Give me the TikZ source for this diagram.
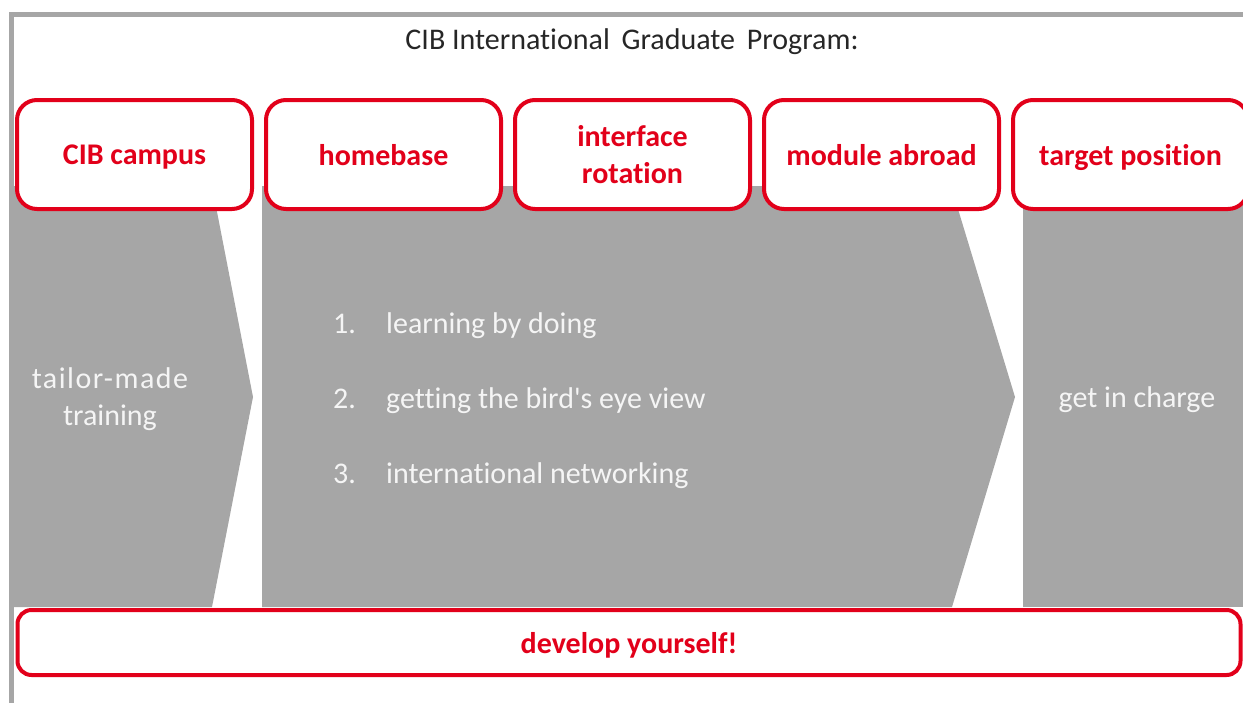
\documentclass[tikz,border=0pt]{standalone}
\usepackage{fontspec}
\setmainfont{Carlito}[Ligatures=NoCommon]
\usetikzlibrary{positioning,backgrounds}
\definecolor{cibred}{HTML}{E2001A}
\definecolor{cibgray}{HTML}{A6A6A6}

\begin{document}
\begin{tikzpicture}[x=1pt,y=-1pt,
	stagenode/.style={rectangle, rounded corners=20pt, draw=cibred, line width=4pt, fill=white, minimum width=235pt, minimum height=109pt, text depth=0pt, align=center, text=cibred, font=\fontsize{30}{37}\selectfont\bfseries},
	graytext/.style={text=white!96!black, font=\fontsize{30}{37}\selectfont}]
	\useasboundingbox (0,0) rectangle (1243,702);

	\node[text=black!85, font=\fontsize{30}{37}\selectfont] (title) at (632,42) {CIB International\, Graduate\, Program:};

	\node[stagenode] (s1) at (134.5,154.5) {CIB campus};
	\node[stagenode] (s2) [right=10pt of s1] {homebase};
	\node[stagenode] (s3) [right=10pt of s2] {interface\\rotation};
	\node[stagenode] (s4) [right=10pt of s3] {module abroad};
	\node[stagenode] (s5) [right=10pt of s4] {target position};

	\node[graytext, align=center] (t1) at (110,399) {{\addfontfeatures{LetterSpace=5}tailor-made}\\training};

	\node[graytext, inner sep=0pt, anchor=base west] (n1) at (333,333) {1.};
	\node[graytext, inner sep=0pt, anchor=base west] (i1) at (386,333) {learning by doing};
	\node[graytext, inner sep=0pt, anchor=base west] (n2) at (333,408) {2.};
	\node[graytext, inner sep=0pt, anchor=base west] (i2) at (386,408) {getting the bird\textquotesingle s eye view};
	\node[graytext, inner sep=0pt, anchor=base west] (n3) at (333,483) {3.};
	\node[graytext, inner sep=0pt, anchor=base west] (i3) at (386,483) {international networking};

	\node[graytext] (t5) at (1137,400) {get in charge};

	\node[stagenode, rounded corners=14pt, minimum width=1223pt, minimum height=65pt] (dev) at (629,642.5) {develop yourself!};

	\begin{pgfonlayer}{background}
		\begin{scope}
			\clip (0,0) rectangle (1243,702);
			\draw[cibgray, line width=5pt] (11.5,14) rectangle (1300,760);
			\fill[cibgray] (9,186) -- (212,186) -- (253,397) -- (212,607) -- (9,607) -- cycle;
			\fill[cibgray] (262,186) -- (951,186) -- (1015,397) -- (952,607) -- (262,607) -- cycle;
			\fill[cibgray] (1023,186) rectangle (1260,607);
		\end{scope}
	\end{pgfonlayer}
\end{tikzpicture}
\end{document}
